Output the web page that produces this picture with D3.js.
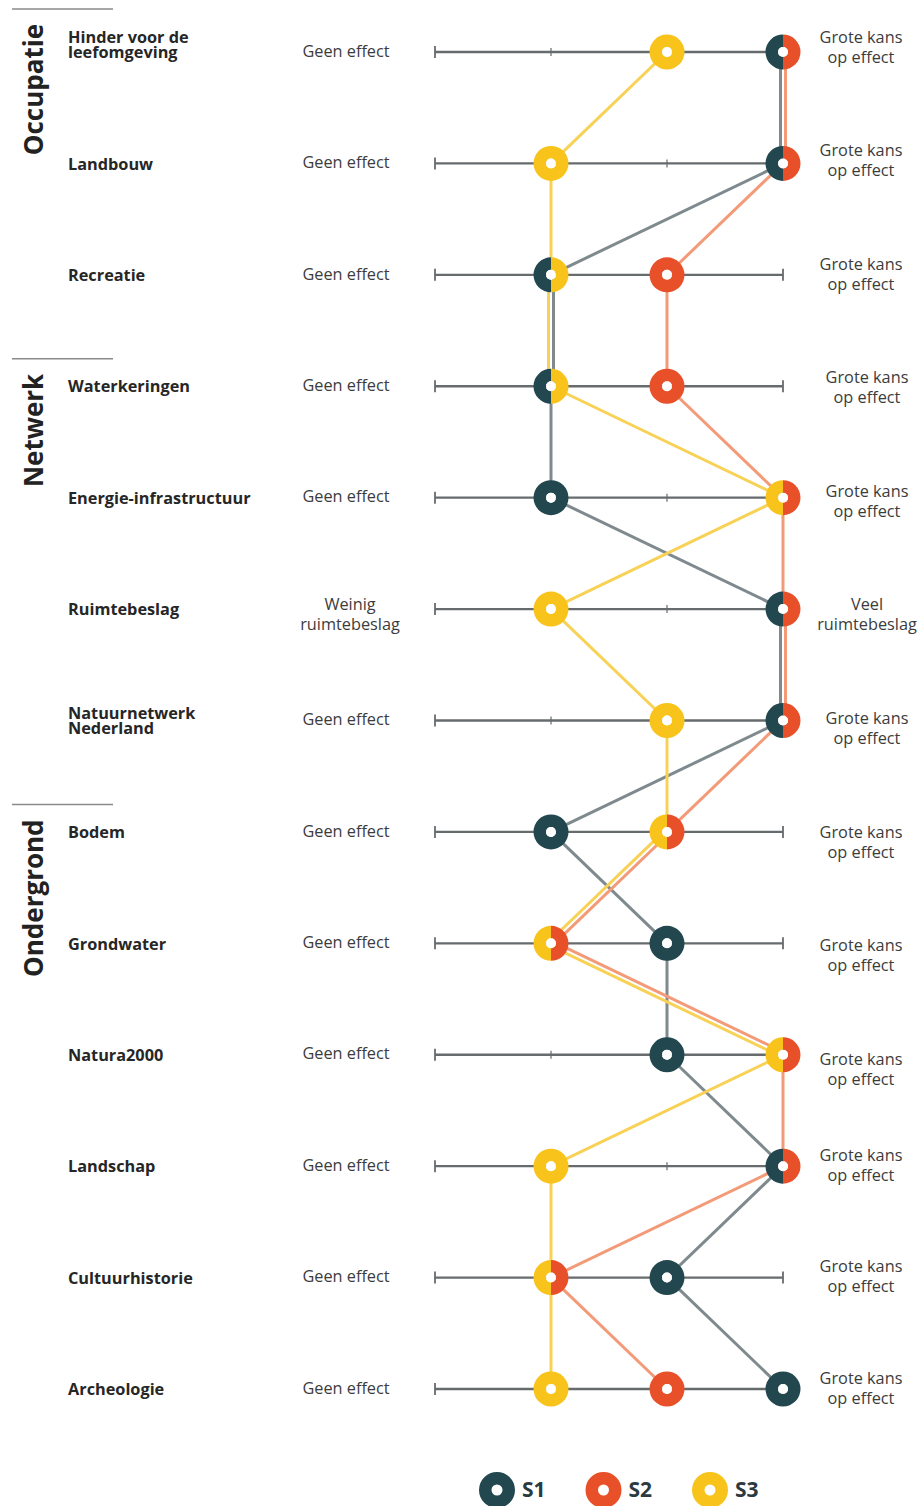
<!DOCTYPE html>
<html>
<head>
<meta charset="utf-8">
<script src="https://cdn.jsdelivr.net/npm/d3@7/dist/d3.min.js"></script>
<style>
  html, body { margin: 0; padding: 0; background: #fff; }
  svg { display: block; font-family: "Open Sans", "Noto Sans", sans-serif; }
</style>
</head>
<body>
<svg id="chart" width="921" height="1506"></svg>
<script>
// Criteria (rows), grouped into three themes
const criteria = [
  "Hinder voor de\nleefomgeving", "Landbouw", "Recreatie",
  "Waterkeringen", "Energie-infrastructuur", "Ruimtebeslag", "Natuurnetwerk\nNederland",
  "Bodem", "Grondwater", "Natura2000", "Landschap", "Cultuurhistorie", "Archeologie"
];
const groupNames = ["Occupatie", "Netwerk", "Ondergrond"];
const groupStart = [0, 3, 7];

// Scale end labels per row
const lowLabels = [
  "Geen effect", "Geen effect", "Geen effect",
  "Geen effect", "Geen effect", "Weinig\nruimtebeslag", "Geen effect",
  "Geen effect", "Geen effect", "Geen effect", "Geen effect", "Geen effect", "Geen effect"
];
const highLabels = [
  "Grote kans\nop effect", "Grote kans\nop effect", "Grote kans\nop effect",
  "Grote kans\nop effect", "Grote kans\nop effect", "Veel\nruimtebeslag", "Grote kans\nop effect",
  "Grote kans\nop effect", "Grote kans\nop effect", "Grote kans\nop effect", "Grote kans\nop effect",
  "Grote kans\nop effect", "Grote kans\nop effect"
];

// Score per scenario on a 0..3 scale
const scenarios = ["S1", "S2", "S3"];
const s1 = [3, 3, 1, 1, 1, 3, 3, 1, 2, 2, 3, 2, 3];
const s2 = [3, 3, 2, 2, 3, 3, 3, 2, 1, 3, 3, 1, 2];
const s3 = [2, 1, 1, 1, 3, 1, 2, 2, 1, 3, 1, 1, 1];
const scaleSteps = [0, 1, 2, 3];

const series = [s1, s2, s3];
const markColor = { S1: "#22474f", S2: "#e8502a", S3: "#f8c31b" };
const lineColor = { S1: "#7e8a8d", S2: "#f39a78", S3: "#f7d256" };
// left-to-right order of parallel lines and of split markers
const lineOrder = ["S3", "S1", "S2"];
const markOrder = ["S1", "S3", "S2"];

const svg = d3.select("#chart");
const x = d3.scaleLinear().domain([0, 3]).range([435, 783]);
const y = d3.scalePoint().domain(d3.range(criteria.length)).range([52, 1389]);
const groupOf = i => d3.bisectRight(groupStart, i) - 1;

// note column follows its own spacing
const noteY = d3.scaleLinear().domain([0, 9]).range([37, 1059]);
const noteTop = i => i <= 9 ? noteY(i) : y(i) - 11;

const ink = "#2e2e2e";
const fs = 16.3;

function multiline(sel, text, cx, cy, lh, opts) {
  const lines = text.split("\n");
  const t = sel.append("text")
    .attr("x", cx)
    .attr("text-anchor", opts.anchor || "start")
    .attr("font-size", opts.size)
    .attr("font-weight", opts.weight || 400)
    .attr("fill", opts.fill || ink);
  lines.forEach((l, k) => {
    t.append("tspan").attr("x", cx).attr("y", cy + k * lh).attr("dy", "0.35em").text(l);
  });
  return t;
}

// --- axes ---
const axes = svg.append("g");
criteria.forEach((c, i) => {
  const g = axes.append("g").attr("transform", `translate(0,${y(i)})`);
  g.append("line").attr("x1", x(0)).attr("x2", x(3))
    .attr("stroke", "#666b6d").attr("stroke-width", 2.4);
  g.selectAll("line.tick").data(scaleSteps).join("line")
    .attr("class", "tick")
    .attr("x1", d => x(d)).attr("x2", d => x(d))
    .attr("y1", d => (d === 0 || d === 3) ? -6 : -4)
    .attr("y2", d => (d === 0 || d === 3) ? 6 : 4)
    .attr("stroke", "#666b6d")
    .attr("stroke-width", d => (d === 0 || d === 3) ? 1.8 : 1.2);
});

// --- labels ---
const labels = svg.append("g");
const rowTop = [];
const rowLh = 15;
criteria.forEach((c, i) => {
  const n = c.split("\n").length;
  const lift = i === 0 ? (n - 1) * rowLh : (n - 1) * rowLh / 2;
  const top = y(i) - lift + (i === 0 ? 0 : 0.5);
  rowTop.push(top);
  multiline(labels, c, 68, top, rowLh, { size: fs, weight: 700, fill: "#262626" });

  const lo = lowLabels[i];
  const ln = lo.split("\n").length;
  multiline(labels, lo, ln > 1 ? 350 : 346, ln > 1 ? y(i) - 5 : y(i) - 1, 20,
    { size: fs, anchor: "middle", fill: "#3c3c3c" });

  const hiX = groupOf(i) === 1 ? 867 : 861;
  multiline(labels, highLabels[i], hiX, noteTop(i), 20,
    { size: fs, anchor: "middle", fill: "#3c3c3c" });
});

// --- group titles and separators ---
groupNames.forEach((name, gi) => {
  const sepY = rowTop[groupStart[gi]] - 28;
  labels.append("line")
    .attr("x1", 12).attr("x2", 113).attr("y1", sepY).attr("y2", sepY)
    .attr("stroke", "#8a8a8a").attr("stroke-width", 1.5);
  labels.append("text")
    .attr("transform", `translate(43,${sepY + 15}) rotate(-90)`)
    .attr("text-anchor", "end")
    .attr("font-size", 26)
    .attr("font-weight", 700)
    .attr("fill", "#222")
    .text(name);
});

// --- connecting lines (parallel where scenarios share a segment) ---
const lines = svg.append("g");
const gap = 5;
for (let i = 0; i < criteria.length - 1; i++) {
  const buckets = d3.group(scenarios, s => {
    const v = series[scenarios.indexOf(s)];
    return v[i] + "-" + v[i + 1];
  });
  buckets.forEach(members => {
    members.sort((a, b) => lineOrder.indexOf(a) - lineOrder.indexOf(b));
    members.forEach((s, k) => {
      const v = series[scenarios.indexOf(s)];
      const x1 = x(v[i]), y1 = y(i), x2 = x(v[i + 1]), y2 = y(i + 1);
      const dx = x2 - x1, dy = y2 - y1, len = Math.hypot(dx, dy);
      const nx = -dy / len, ny = dx / len;
      const off = ((members.length - 1) / 2 - k) * gap;
      lines.append("line")
        .attr("x1", x1 + nx * off).attr("y1", y1 + ny * off)
        .attr("x2", x2 + nx * off).attr("y2", y2 + ny * off)
        .attr("stroke", lineColor[s]).attr("stroke-width", 3);
    });
  });
}

// --- markers (split when scenarios coincide) ---
const marks = svg.append("g");
const arc = d3.arc().innerRadius(5).outerRadius(17.5);
criteria.forEach((c, i) => {
  const byValue = d3.group(scenarios, s => series[scenarios.indexOf(s)][i]);
  byValue.forEach((members, v) => {
    members.sort((a, b) => markOrder.indexOf(a) - markOrder.indexOf(b));
    const g = marks.append("g").attr("transform", `translate(${x(v)},${y(i)})`);
    const span = (2 * Math.PI) / members.length;
    members.forEach((s, k) => {
      const a0 = members.length === 1 ? 0 : Math.PI + k * span;
      g.append("path")
        .attr("d", arc({ startAngle: a0, endAngle: a0 + span }))
        .attr("fill", markColor[s]);
    });
    g.append("circle").attr("r", 5).attr("fill", "#fff");
  });
});

// --- legend ---
const legendX = d3.scalePoint().domain(scenarios).range([497, 710]);
const legend = svg.append("g");
scenarios.forEach(s => {
  const g = legend.append("g").attr("transform", `translate(${legendX(s)},1490)`);
  g.append("path")
    .attr("d", d3.arc().innerRadius(5.5).outerRadius(18)({ startAngle: 0, endAngle: 2 * Math.PI }))
    .attr("fill", markColor[s]);
  g.append("text").attr("x", 25).attr("dy", "0.35em")
    .attr("font-size", 21).attr("font-weight", 700).attr("fill", "#2a3a3f")
    .text(s);
});
</script>
</body>
</html>
